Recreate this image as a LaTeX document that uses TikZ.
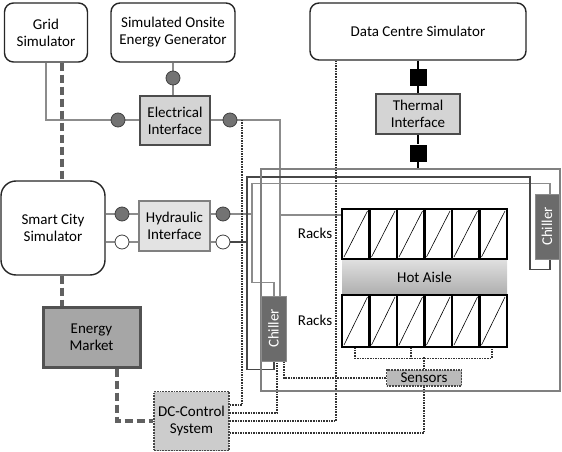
\documentclass[tikz,border=0pt]{standalone}
\usepackage{fontspec}
\setmainfont{Carlito}
\usetikzlibrary{calc,backgrounds}
\begin{document}
\begin{tikzpicture}[x=1pt,y=-1pt,
  every node/.style={font=\fontsize{15}{17}\selectfont, align=center, inner sep=0pt},
  simbox/.style={draw=black!85, line width=1.4pt, rounded corners=9pt, fill=white},
  ifbox/.style={draw=black!70, line width=1.8pt, fill=black!17},
  hybox/.style={draw=black!50, line width=1.2pt, fill=black!11},
  pdark/.style={circle, draw=black!75, line width=0.8pt, fill=black!55, minimum size=14pt},
  pwhite/.style={circle, draw=black!75, line width=0.8pt, fill=white, minimum size=14pt},
  sqport/.style={fill=black, minimum size=17pt},
  conn/.style={draw=black!45, line width=1.2pt},
  pipedk/.style={draw=black!72, line width=1.2pt},
  ctrl/.style={draw=black!80, line width=1.1pt, dash pattern=on 1.6pt off 1pt},
  mkt/.style={draw=black!62, line width=4pt, dash pattern=on 8pt off 4pt},
  ctrlbox/.style={draw=black!72, line width=1.4pt, dash pattern=on 1.8pt off 1pt, fill=black!20},
  chillbox/.style={draw=black!45, line width=1pt, fill=black!58},
  rackline/.style={draw=black, line width=2.4pt},
]
\useasboundingbox (0,0) rectangle (562,452);

% room
\node[draw=black!50, line width=1.2pt, minimum width=299pt, minimum height=222pt] (room) at (410.5,280) {};

% simulators
\node[simbox, minimum width=83pt, minimum height=59pt] (grid) at (46,32.5) {Grid\\Simulator};
\node[simbox, minimum width=124pt, minimum height=59pt] (gen) at (173,32.5) {Simulated Onsite\\Energy Generator};
\node[simbox, minimum width=216pt, minimum height=57pt] (dcs) at (418,31.5) {Data Centre Simulator};
\node[simbox, rounded corners=15pt, minimum width=104pt, minimum height=94pt] (smart) at (53,228) {Smart City\\Simulator};

% interfaces
\node[ifbox, minimum width=70pt, minimum height=49pt] (elec) at (175,120.5) {Electrical\\Interface};
\node[ifbox, minimum width=84pt, minimum height=40pt] (therm) at (418,114) {Thermal\\Interface};
\node[hybox, minimum width=71pt, minimum height=50pt] (hyd) at (174.5,226) {Hydraulic\\Interface};

% market and control
\node[draw=black!68, line width=3pt, fill=black!35, minimum width=97pt, minimum height=60pt] (market) at (91.5,337) {Energy\\Market};
\node[ctrlbox, minimum width=75pt, minimum height=59pt] (dcc) at (191.5,421) {DC-Control\\System};
\node[ctrlbox, fill=black!27, minimum width=75pt, minimum height=16pt] (sensors) at (424,378) {Sensors};

% ports
\node[pdark] (pe1) at (118,120) {};
\node[pdark] (pe2) at (230,120) {};
\node[pdark] (pg) at (173,78) {};
\node[pdark] (ph1) at (122,214) {};
\node[pwhite] (ph2) at (122,242) {};
\node[pdark] (ph3) at (223,214) {};
\node[pwhite] (ph4) at (223,242) {};
\node[sqport] (sq1) at (418,77.5) {};
\node[sqport] (sq2) at (418,153) {};

% chillers
\node[chillbox, minimum width=25pt, minimum height=65pt] (chL) at (273.5,328.5) {};
\node[rotate=90, text=white] at (chL) {Chiller};
\node[chillbox, minimum width=24pt, minimum height=65pt] (chR) at (547,226.5) {};
\node[rotate=90, text=white] at (chR) {Chiller};

% hot aisle and racks
\node[top color=black!12, bottom color=black!32, minimum width=165pt, minimum height=36pt] (hot) at (424.5,277) {Hot Aisle};
\node[minimum width=165pt, minimum height=50pt] (rtop) at (424.5,234) {};
\node[minimum width=165pt, minimum height=52pt] (rbot) at (424.5,321) {};
\foreach \i in {0,...,5}{
  \pgfmathsetmacro{\xa}{342+27.5*\i}
  \pgfmathsetmacro{\xb}{\xa+27.5}
  \draw[line width=0.6pt] (\xa+2,257) -- (\xb-2,211);
  \draw[line width=0.6pt] (\xa+2,345) -- (\xb-2,297);
  \draw[rackline] (\xa,209) rectangle (\xb,259);
  \draw[rackline] (\xa,295) rectangle (\xb,347);
}
\node (lr1) at (315,233) {Racks};
\node (lr2) at (315,320) {Racks};

\coordinate (dl) at (62,0);
\coordinate (jg) at (252,214);
\coordinate (jd) at (247,242);
\coordinate (eb) at (280,215);
\coordinate (ctop) at (242,120);

\begin{scope}[on background layer]
  % electrical
  \draw[conn] (grid.south) |- (pe1);
  \draw[conn] (pe1) -- (elec.west |- pe1);
  \draw[conn] (gen.south -| pg) -- (pg) -- (pg |- elec.north);
  \draw[conn] (elec.east |- pe2) -- (pe2);
  \draw[conn] (pe2) -| ([xshift=6.5pt]chL.north);
  \draw[conn] (eb) -- (eb -| rtop.west);
  % thermal
  \draw[line width=1.2pt] (dcs.south) -- (sq1) -- (therm.north);
  \draw[line width=1.2pt] (therm.south) -- (sq2) -- (sq2 |- room.north);
  % hydraulic
  \draw[conn] (smart.east |- ph1) -- (ph1) -- (hyd.west |- ph1);
  \draw[conn] (smart.east |- ph2) -- (ph2) -- (hyd.west |- ph2);
  \draw[conn] (hyd.east |- ph3) -- (ph3) -- (jg);
  \draw[conn] (hyd.east |- ph4) -- (ph4);
  \draw[pipedk] (ph4) -- (jd);
  \draw[conn] ([xshift=3pt]chR.north) -- ++(0,-10) -| (jg);
  \draw[conn] (jg) |- ([xshift=0.5pt,yshift=13pt]chL.north) -- ([xshift=0.5pt]chL.north);
  \draw[pipedk] ([xshift=3pt]chR.south) -- ++(0,10) -| (530,177) -| (jd);
  \draw[pipedk] (jd) |- ([xshift=0.5pt,yshift=-8pt]chL.south) -- ([xshift=0.5pt]chL.south);
  % control
  \draw[ctrl] ([yshift=16pt]dcc.east) -| (ctop);
  \draw[ctrl] ([yshift=8pt]dcc.east) -| ([xshift=3.5pt]chL.south);
  \draw[ctrl] (dcc.east) -| ([xshift=-82pt]dcs.south);
  \draw[ctrl] ([yshift=-12pt]dcc.east) -| (sensors.south);
  \draw[ctrl] (sensors.west) -| ([xshift=10.5pt]chL.south);
  \draw[ctrl] (sensors.north) -- ++(0,-12);
  \draw[ctrl] ([xshift=-69.5pt]rbot.south) |- ([xshift=67.5pt,yshift=-11pt]rbot.south) -- ([xshift=67.5pt]rbot.south);
  \draw[ctrl] ([xshift=-13.5pt]rbot.south) -- ++(0,11);
  % market
  \draw[mkt] (grid.south -| dl) -- (smart.north -| dl);
  \draw[mkt] (smart.south -| dl) -- (market.north -| dl);
  \draw[mkt] ([xshift=25.5pt]market.south) |- (dcc.west);
\end{scope}
\end{tikzpicture}
\end{document}
